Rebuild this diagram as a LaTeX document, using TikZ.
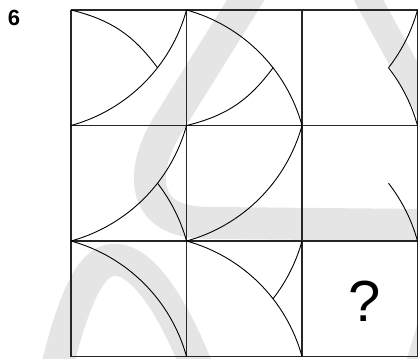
\documentclass[tikz,border=0pt]{standalone}
\usepackage{fontspec}
\setmainfont{Liberation Sans}
\usetikzlibrary{positioning}
\definecolor{wmgray}{gray}{0.9}

\begin{document}
\begin{tikzpicture}[x=1pt,y=-1pt,
  gl/.style={line width=1.2pt,black!85},
  ln/.style={line width=0.9pt,black},
  wm/.style={line width=32pt,wmgray}]
\useasboundingbox (0,0) rectangle (418,359);
\begin{scope}
\clip (0,0) rectangle (418,359);
\draw[wm] (252,-10) -- (169,123) .. controls (150,153) and (143,185) .. (158,205)
  .. controls (170,220) and (190,223) .. (215,223) -- (425,225);
\draw[wm,line width=26pt] (363,-10) -- (430,112);
\draw[wm] (55,375) .. controls (80,270) and (100,258) .. (118,260)
  .. controls (145,263) and (175,310) .. (200,375);
\draw[wm,line width=30pt] (413,390) -- (441,298);
\end{scope}
\foreach \i in {0,1,2,3}{
  \draw[gl] (71+115.5*\i,10) -- (71+115.5*\i,356.5);
  \draw[gl] (71,10+115.5*\i) -- (417.5,10+115.5*\i);}
\foreach \x/\y in {71/10,71/125.5,186.5/125.5}{
  \draw[ln] (\x,\y+115.5) arc[start angle=74.61,end angle=15.39,radius=165.31];}
\foreach \x/\y in {186.5/10,71/241,186.5/241}{
  \draw[ln] (\x,\y) arc[start angle=-74.61,end angle=-15.39,radius=165.31];}
\foreach \x/\y in {302/10,186.5/241}{
  \draw[ln] (\x+86.5,\y+57.75) arc[start angle=37.94,end angle=15.39,radius=165.31];}
\foreach \x/\y in {302/10,71/125.5,302/125.5}{
  \draw[ln] (\x+86.5,\y+57.75) arc[start angle=-37.94,end angle=-15.39,radius=165.31];}
\coordinate (p1) at (157.5,67.75);
\coordinate (p2) at (273,67.75);
\draw[ln] (71,10) to[bend left=20] (p1);
\draw[ln] (186.5,125.5) to[bend right=20] (p2);
\node[font=\fontsize{22}{26}\selectfont\bfseries,inner sep=0pt] (num) at (14,18) {6};
\node[font=\fontsize{58}{60}\selectfont,inner sep=0pt] (qmark) at (365,301.5) {?};
\end{tikzpicture}
\end{document}
